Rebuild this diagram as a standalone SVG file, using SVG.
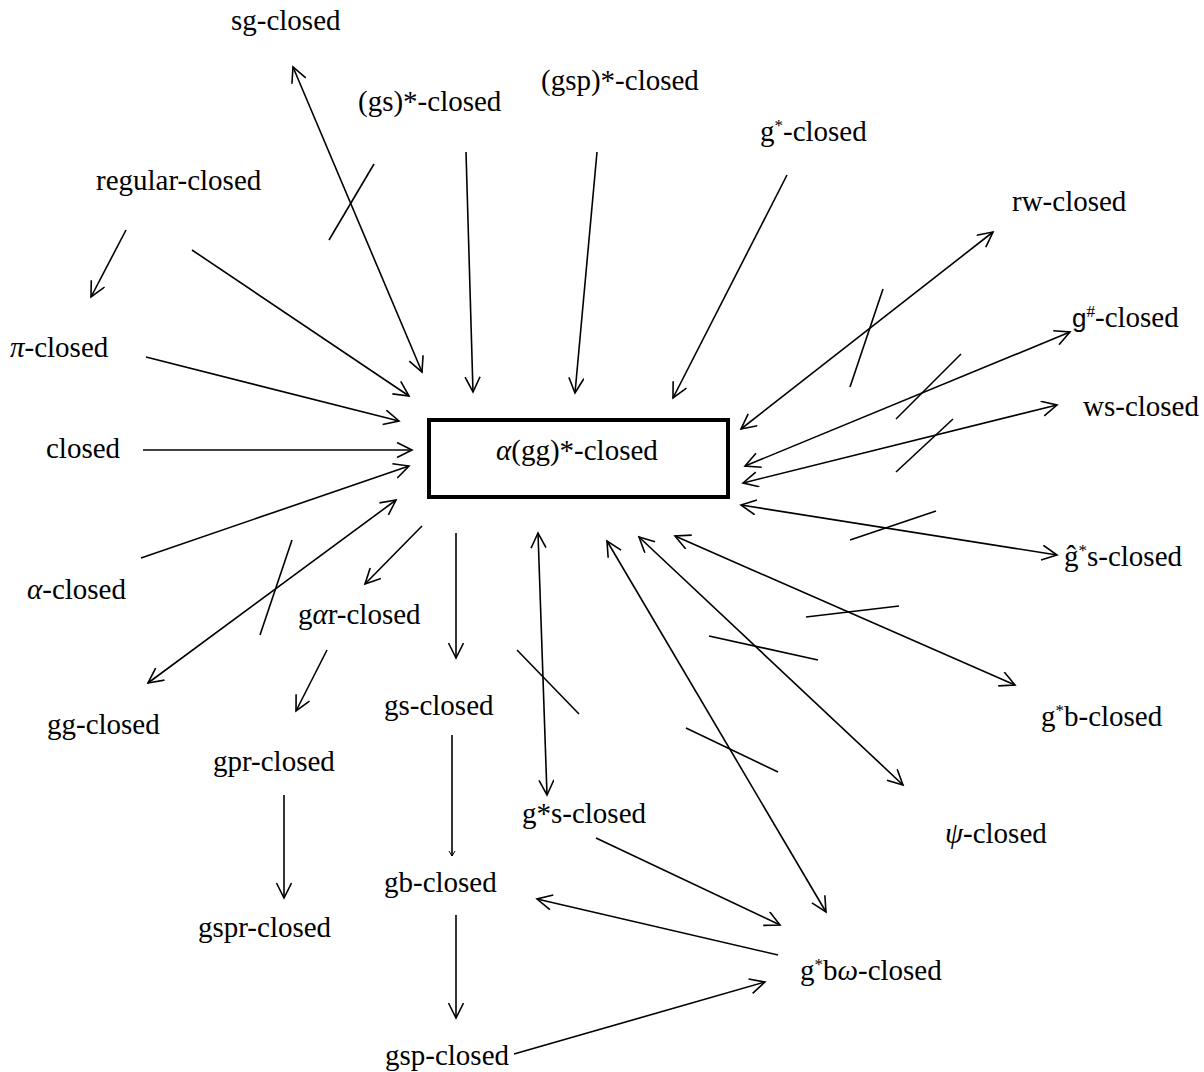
<svg xmlns="http://www.w3.org/2000/svg" width="1204" height="1072" viewBox="0 0 1204 1072">
<defs>
<marker id="ah" markerUnits="userSpaceOnUse" markerWidth="20" markerHeight="18" refX="16" refY="8" orient="auto-start-reverse">
<path d="M1,0.5 L16,8 L1,15.5" fill="none" stroke="#000" stroke-width="1.6"/>
</marker>
<marker id="ahs" markerUnits="userSpaceOnUse" markerWidth="8" markerHeight="8" refX="6" refY="4" orient="auto">
<path d="M1,1 L6,4 L1,7" fill="none" stroke="#000" stroke-width="1"/>
</marker>
<style>
text{font-family:"Liberation Serif","Times New Roman",serif;font-size:29px;fill:#000}
.gr{font-style:italic}
.sup{font-size:17px}
.sans{font-family:"Liberation Sans",Arial,sans-serif;font-size:26px}
.a{stroke:#000;stroke-width:1.6;fill:none;marker-end:url(#ah)}
.d{stroke:#000;stroke-width:1.6;fill:none;marker-start:url(#ah);marker-end:url(#ah)}
.s{stroke:#000;stroke-width:1.6;fill:none}
</style>
</defs>
<rect width="1204" height="1072" fill="#fff"/>

<g id="connectors">
<line class="d" x1="293" y1="67" x2="422" y2="372"/>
<line class="s" x1="374" y1="164" x2="329" y2="240"/>
<line class="a" x1="466" y1="152" x2="473" y2="392"/>
<line class="a" x1="597" y1="152" x2="575" y2="393"/>
<line class="a" x1="787" y1="175" x2="673" y2="398"/>
<line class="a" x1="126" y1="230" x2="91" y2="297"/>
<line class="a" x1="192" y1="250" x2="409" y2="396"/>
<line class="a" x1="146" y1="357" x2="399" y2="421"/>
<line class="a" x1="143" y1="450" x2="412" y2="450"/>
<line class="a" x1="141" y1="558" x2="409" y2="466"/>
<line class="d" x1="148" y1="683" x2="396" y2="500"/>
<line class="s" x1="292" y1="540" x2="260" y2="635"/>
<line class="a" x1="422" y1="526" x2="365" y2="584"/>
<line class="a" x1="327" y1="650" x2="296" y2="711"/>
<line class="a" x1="284" y1="795" x2="284" y2="898"/>
<line class="a" x1="456" y1="533" x2="456" y2="658"/>
<line class="s" x1="452" y1="735" x2="452" y2="856" style="marker-end:url(#ahs)"/>
<line class="a" x1="456" y1="915" x2="456" y2="1018"/>
<line class="a" x1="514" y1="1054" x2="765" y2="982"/>
<line class="a" x1="778" y1="955" x2="537" y2="899"/>
<line class="a" x1="596" y1="838" x2="780" y2="925"/>
<line class="d" x1="547" y1="795" x2="538" y2="533"/>
<line class="s" x1="517" y1="650" x2="579" y2="714"/>
<line class="d" x1="826" y1="912" x2="607" y2="541"/>
<line class="s" x1="686" y1="728" x2="778" y2="772"/>
<line class="d" x1="903" y1="785" x2="639" y2="537"/>
<line class="s" x1="709" y1="636" x2="818" y2="660"/>
<line class="d" x1="1015" y1="685" x2="675" y2="536"/>
<line class="s" x1="806" y1="617" x2="899" y2="606"/>
<line class="d" x1="1057" y1="555" x2="741" y2="505"/>
<line class="s" x1="850" y1="540" x2="936" y2="511"/>
<line class="d" x1="1057" y1="405" x2="743" y2="483"/>
<line class="s" x1="896" y1="472" x2="953" y2="419"/>
<line class="d" x1="1070" y1="332" x2="745" y2="466"/>
<line class="s" x1="896" y1="419" x2="961" y2="354"/>
<line class="d" x1="993" y1="232" x2="741" y2="429"/>
<line class="s" x1="850" y1="387" x2="883" y2="289"/>
</g>

<g id="n-center">
<rect x="429" y="420" width="299" height="77" fill="none" stroke="#000" stroke-width="4"/>
<text x="496" y="460"><tspan class="gr">α</tspan>(gg)*-closed</text>
</g>
<g id="n-sg"><text x="231" y="30">sg-closed</text></g>
<g id="n-gsstar"><text x="358" y="111">(gs)*-closed</text></g>
<g id="n-gspstar"><text x="541" y="90">(gsp)*-closed</text></g>
<g id="n-gstar"><text x="760" y="141">g<tspan class="sup" dy="-10">*</tspan><tspan dy="10">-closed</tspan></text></g>
<g id="n-regular"><text x="96" y="190">regular-closed</text></g>
<g id="n-rw"><text x="1012" y="211">rw-closed</text></g>
<g id="n-gsharp"><text x="1072" y="327"><tspan class="sans">g</tspan><tspan class="sup" dy="-10">#</tspan><tspan dy="10">-closed</tspan></text></g>
<g id="n-pi"><text x="10" y="357"><tspan class="gr">π</tspan>-closed</text></g>
<g id="n-ws"><text x="1083" y="416">ws-closed</text></g>
<g id="n-closed"><text x="46" y="458">closed</text></g>
<g id="n-ghats"><text x="1064" y="566">ĝ<tspan class="sup" dy="-10">*</tspan><tspan dy="10">s-closed</tspan></text></g>
<g id="n-alpha"><text x="27" y="599"><tspan class="gr">α</tspan>-closed</text></g>
<g id="n-gar"><text x="298" y="624">g<tspan class="gr">α</tspan>r-closed</text></g>
<g id="n-gg"><text x="47" y="734">gg-closed</text></g>
<g id="n-gstarb"><text x="1041" y="726">g<tspan class="sup" dy="-10">*</tspan><tspan dy="10">b-closed</tspan></text></g>
<g id="n-gs"><text x="384" y="715">gs-closed</text></g>
<g id="n-gpr"><text x="213" y="771">gpr-closed</text></g>
<g id="n-gstars"><text x="522" y="823">g*s-closed</text></g>
<g id="n-psi"><text x="945" y="843"><tspan class="gr">ψ</tspan>-closed</text></g>
<g id="n-gb"><text x="384" y="892">gb-closed</text></g>
<g id="n-gspr"><text x="198" y="937">gspr-closed</text></g>
<g id="n-gstarbw"><text x="800" y="980">g<tspan class="sup" dy="-10">*</tspan><tspan dy="10">b</tspan><tspan class="gr">ω</tspan>-closed</text></g>
<g id="n-gsp"><text x="385" y="1065">gsp-closed</text></g>
</svg>
